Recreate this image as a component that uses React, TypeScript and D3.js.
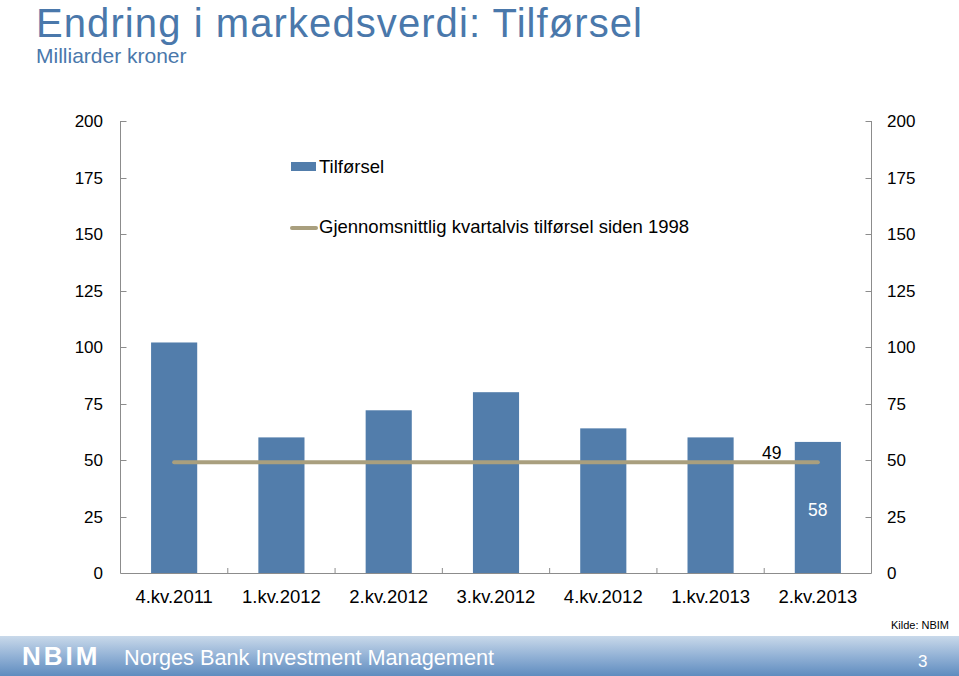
import React from "react";
import * as d3 from "d3";

const categories = ["4.kv.2011", "1.kv.2012", "2.kv.2012", "3.kv.2012", "4.kv.2012", "1.kv.2013", "2.kv.2013"];
const inflow = [102, 60, 72, 80, 64, 60, 58];
const averageInflow = 49;
const yTicks = [0, 25, 50, 75, 100, 125, 150, 175, 200];

const W = 959;
const H = 676;
const left = 120.5;
const right = 871.5;
const top = 121;
const bottom = 573;
const FONT = "'Liberation Sans', Arial, Helvetica, sans-serif";
const BAR = "#527dab";
const LINE = "#a99f7e";
const AXIS = "#8c8c8c";

export default function App() {
  const x = d3.scaleBand<string>().domain(categories).range([left, right]).paddingInner(0.57).paddingOuter(0.285);
  const y = d3.scaleLinear().domain([0, 200]).range([bottom, top]);
  const step = x.step();
  const cx = (c: string) => (x(c) as number) + x.bandwidth() / 2;
  const firstC = cx(categories[0]);
  const lastC = cx(categories[categories.length - 1]);
  const lastCat = categories[categories.length - 1];
  const lastVal = inflow[inflow.length - 1];

  return (
    <svg width={W} height={H} style={{ position: "absolute", left: 0, top: 0, background: "#fff" }} fontFamily={FONT}>
      <defs>
        <linearGradient id="foot" x1="0" y1="0" x2="0" y2="1">
          <stop offset="0" stopColor="#c9d9ea" />
          <stop offset="0.5" stopColor="#93b2d6" />
          <stop offset="1" stopColor="#5f8cbf" />
        </linearGradient>
      </defs>
      <text x={36} y={37} fontSize={40} fill="#4a78ab" textLength={606} lengthAdjust="spacing">Endring i markedsverdi: Tilførsel</text>
      <text x={36} y={63} fontSize={21} fill="#4a78ab">Milliarder kroner</text>

      {/* bars */}
      {categories.map((c, i) => (
        <rect key={c} x={x(c)} y={y(inflow[i])} width={x.bandwidth()} height={y(0) - y(inflow[i])} fill={BAR} />
      ))}

      {/* average line */}
      <line x1={firstC} x2={lastC} y1={y(averageInflow)} y2={y(averageInflow)} stroke={LINE} strokeWidth={4} strokeLinecap="round" />
      <text x={lastC - 46} y={y(averageInflow) - 3} fontSize={17.5} textAnchor="middle" fill="#000">{averageInflow}</text>
      <text x={cx(lastCat)} y={(y(lastVal) + y(0)) / 2 + 9} fontSize={17.5} textAnchor="middle" fill="#fff">{lastVal}</text>

      {/* axes */}
      <line x1={left} x2={left} y1={top} y2={bottom} stroke={AXIS} />
      <line x1={right} x2={right} y1={top} y2={bottom} stroke={AXIS} />
      <line x1={left} x2={right} y1={bottom + 0.5} y2={bottom + 0.5} stroke={AXIS} />
      {yTicks.map((t) => (
        <g key={t}>
          <line x1={left} x2={left + 6} y1={Math.round(y(t)) + 0.5} y2={Math.round(y(t)) + 0.5} stroke={AXIS} />
          <line x1={right - 6} x2={right} y1={Math.round(y(t)) + 0.5} y2={Math.round(y(t)) + 0.5} stroke={AXIS} />
          <text x={103} y={y(t) + 6} fontSize={17} textAnchor="end" fill="#000">{t}</text>
          <text x={887} y={y(t) + 6} fontSize={17} textAnchor="start" fill="#000">{t}</text>
        </g>
      ))}
      {categories.map((c, i) =>
        i > 0 ? (
          <line key={"t" + c} x1={left + i * step} x2={left + i * step} y1={bottom} y2={bottom - 5} stroke={AXIS} />
        ) : null
      )}
      {categories.map((c) => (
        <text key={"l" + c} x={cx(c)} y={603} fontSize={18.5} textAnchor="middle" fill="#000">{c}</text>
      ))}

      {/* legend */}
      <rect x={291} y={162} width={25} height={9} fill={BAR} />
      <text x={319} y={173} fontSize={18.5} fill="#000">Tilførsel</text>
      <line x1={292} x2={316} y1={228} y2={228} stroke={LINE} strokeWidth={4} strokeLinecap="round" />
      <text x={319} y={233} fontSize={18.5} fill="#000">Gjennomsnittlig kvartalvis tilførsel siden 1998</text>

      {/* footer */}
      <text x={949} y={629} fontSize={11} textAnchor="end" fill="#000">Kilde: NBIM</text>
      <rect x={0} y={636} width={W} height={40} fill="url(#foot)" />
      <text x={22} y={665} fontSize={26} fontWeight="bold" fill="#fff" letterSpacing={3}>NBIM</text>
      <text x={124} y={665} fontSize={21.7} fill="#fff">Norges Bank Investment Management</text>
      <text x={918} y={667} fontSize={17} fill="#fff">3</text>
    </svg>
  );
}
